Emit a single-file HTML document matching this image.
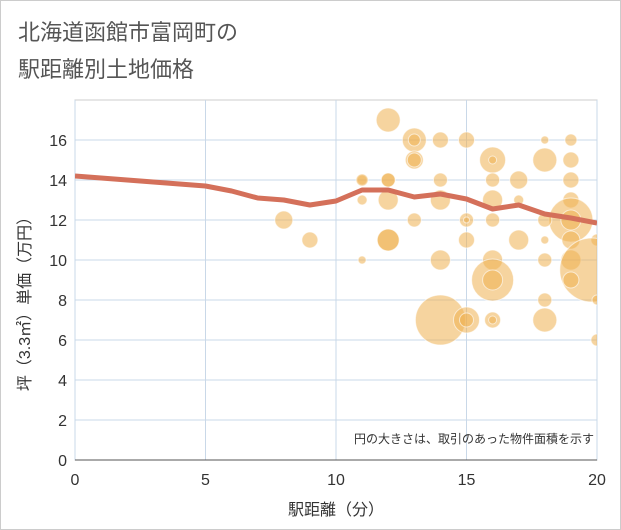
<!DOCTYPE html>
<html><head><meta charset="utf-8"><style>
body{margin:0;background:#fff;}
svg{display:block;font-family:"Liberation Sans","Noto Sans CJK JP",sans-serif;}
</style></head><body>
<svg width="621" height="530">
<defs><clipPath id="pc"><rect x="75" y="100" width="522" height="360"/></clipPath></defs>
<rect x="0.5" y="0.5" width="620" height="529" fill="#fff" stroke="#ccc"/>
<text x="18" y="40" font-size="22" fill="#555">北海道函館市富岡町の</text>
<text x="18" y="77" font-size="22" fill="#555">駅距離別土地価格</text>
<g id="grid"></g>
<g id="bubbles" clip-path="url(#pc)"></g>
<g id="line" clip-path="url(#pc)"></g>
<g id="axes"></g>
<text x="594" y="443" font-size="12" fill="#333" text-anchor="end">円の大きさは、取引のあった物件面積を示す</text>
<text x="336" y="515" font-size="16" fill="#333" text-anchor="middle">駅距離（分）</text>
<text transform="translate(30,300) rotate(-90)" font-size="16" fill="#333" text-anchor="middle">坪（3.3㎡）単価（万円）</text>
</svg>
<script>
const xTicks=[0,5,10,15,20];
const yTicks=[0,2,4,6,8,10,12,14,16];
const bubX=[8,9,11,11,11,12,12,12,12,13,13,13,13,14,15,16,16,18,19,18,19,11,12,14,16,17,19,14,16,17,19,19,13,15,15,16,18,19,12,15,17,18,19,20,14,16,18,19,19.8,16,16,19,18,20,14,15,15,16,16,18,20];
const bubY=[12,11,14,13,10,17,14,13,11,16,16,15,15,16,16,15,15,16,16,15,15,14,14,14,14,14,14,13,13,13,13,12,12,12,12,12,12,12,11,11,11,11,11,11,10,10,10,10,9.5,9,9,9,8,8,7,7,7,7,7,7,6];
const bubR=[9,8,5,5,4,12,7,10,11,12,6,9,7,8,8,13,4,4,6,12,8,6,7,7,7,9,8,10,10,5,8,22,7,7,3,7,7,10,11,8,10,4,9,6,10,10,7,10,32,21,10,8,7,5,25,13,7,8,4,12,6];
const lineX=[0,1,2,3,4,5,6,7,8,9,10,11,12,13,14,15,16,17,18,19,20];
const lineY=[14.2,14.1,14,13.9,13.8,13.7,13.45,13.1,13,12.75,12.95,13.5,13.5,13.15,13.3,13.05,12.55,12.75,12.3,12.1,11.85];
const L=75,R=597,T=100,B=460;
const sx=v=>L+(R-L)*v/20, sy=v=>B-(B-T)*v/18;
const NS="http://www.w3.org/2000/svg";
function mk(p,t,a){const e=document.createElementNS(NS,t);for(const k in a)e.setAttribute(k,a[k]);p.appendChild(e);return e;}
const grid=document.getElementById('grid'),axes=document.getElementById('axes');
const bg=mk(grid,'rect',{x:L,y:T,width:R-L,height:B-T,fill:'#fff',stroke:'#ccc'});


yTicks.forEach(v=>{
 const g=mk(grid,'line',{x1:L,x2:R,y1:sy(v),y2:sy(v),stroke:'#c9d8e8','stroke-width':1});
 
 
 const t=mk(axes,'text',{x:L-8,y:sy(v)+6,'font-size':16,fill:'#333','text-anchor':'end'});t.textContent=v;
 
 
});
xTicks.forEach(v=>{
 const g=mk(grid,'line',{x1:sx(v),x2:sx(v),y1:T,y2:B,stroke:'#c9d8e8','stroke-width':1});
 
 
 const t=mk(axes,'text',{x:sx(v),y:B+25,'font-size':16,fill:'#333','text-anchor':'middle'});t.textContent=v;
 
 
});
const bl=mk(axes,'line',{x1:L,x2:R,y1:B,y2:B,stroke:'#555','stroke-width':1});


const bb=document.getElementById('bubbles');
bubX.forEach((x,i)=>{
 const c=mk(bb,'circle',{cx:sx(x),cy:sy(bubY[i]),r:bubR[i],fill:'rgba(238,176,80,0.55)',stroke:'rgba(255,255,255,0.6)','stroke-width':1});
 
 
});
const pl=mk(document.getElementById('line'),'polyline',{points:lineX.map((x,i)=>sx(x)+','+sy(lineY[i])).join(' '),fill:'none',stroke:'#d4705a','stroke-width':5,'stroke-linejoin':'round'});


</script>
</body></html>
